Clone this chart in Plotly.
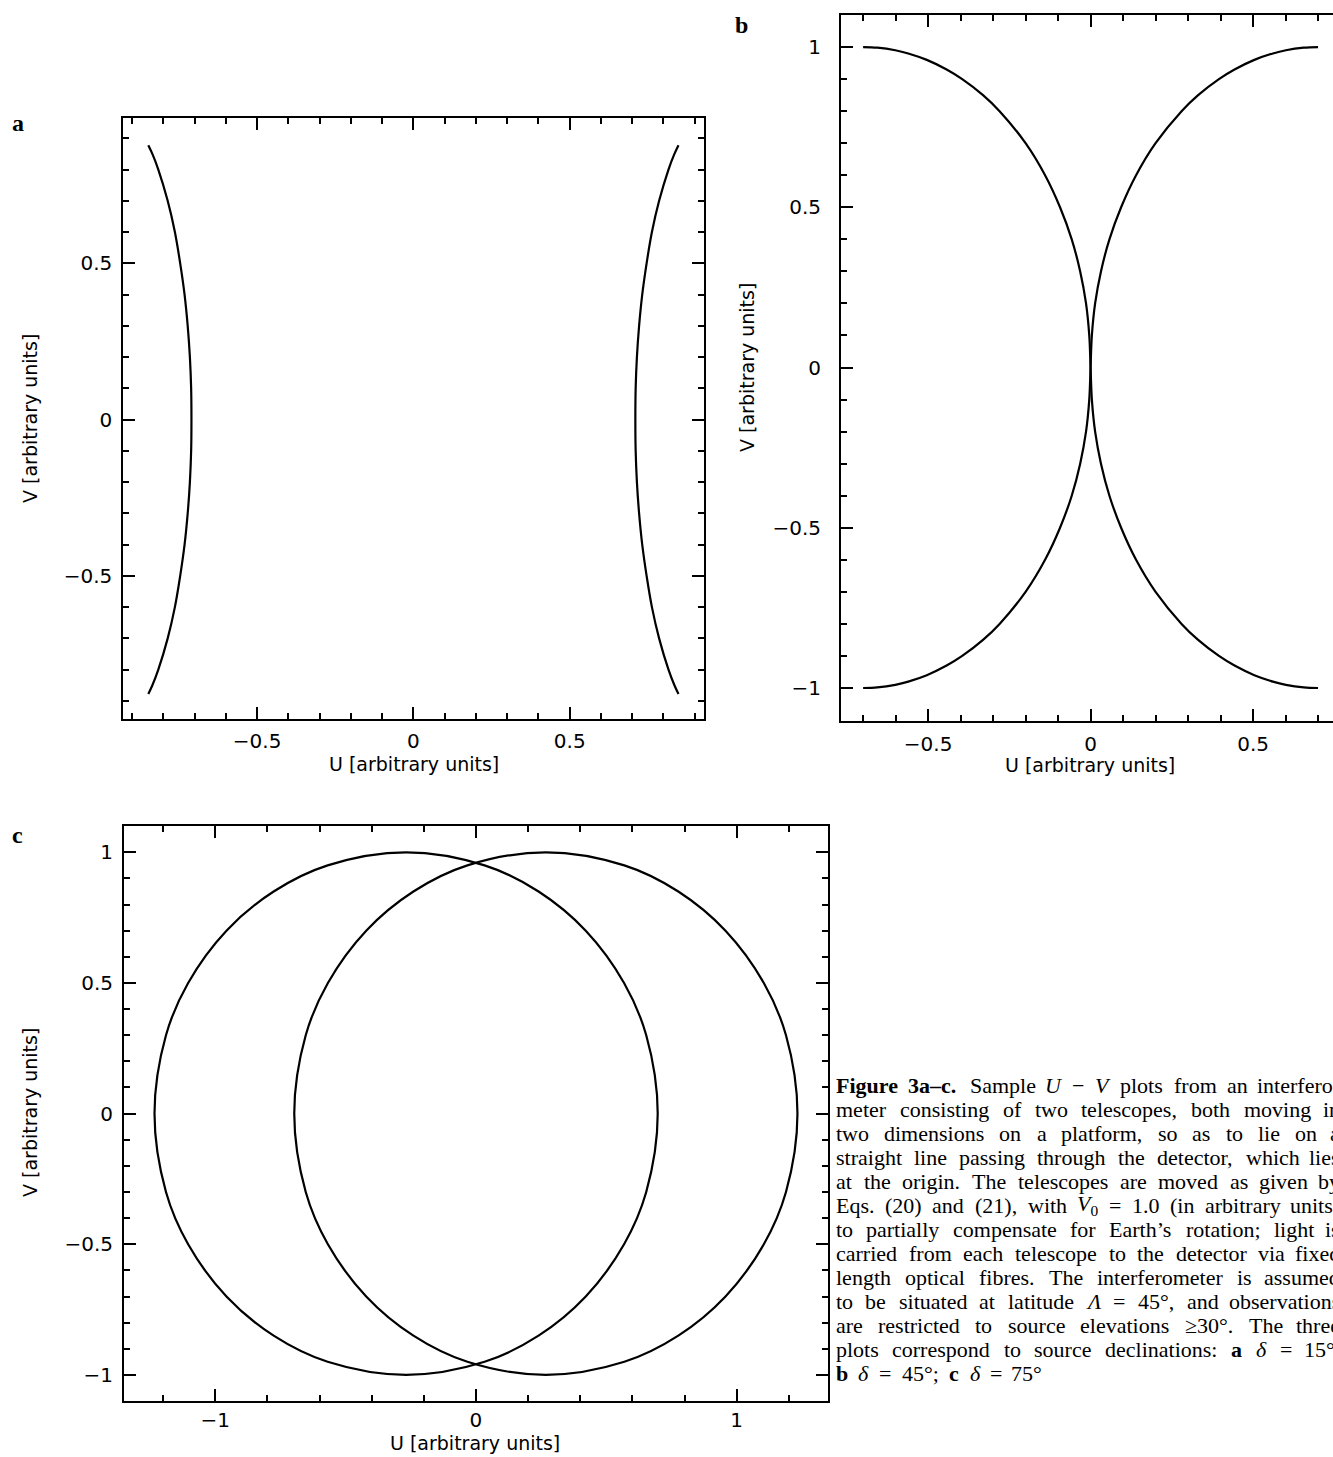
import re
import plotly.graph_objects as go

W, H = 1333, 1457

# ---------------- data ----------------
# panel a : two arcs (delta = 15 deg)
a_v = [-0.878, -0.85, -0.8, -0.7, -0.6, -0.5, -0.4, -0.3, -0.2, -0.1, 0.0,
       0.1, 0.2, 0.3, 0.4, 0.5, 0.6, 0.7, 0.8, 0.85, 0.878]
a_right_u = [0.848, 0.835, 0.816, 0.786, 0.763, 0.746, 0.732, 0.722, 0.715, 0.711, 0.710,
             0.711, 0.715, 0.722, 0.732, 0.746, 0.763, 0.786, 0.816, 0.835, 0.848]
a_left_u = [-0.848, -0.835, -0.816, -0.786, -0.763, -0.746, -0.732, -0.722, -0.715, -0.711, -0.710,
            -0.711, -0.715, -0.722, -0.732, -0.746, -0.763, -0.786, -0.816, -0.835, -0.848]

# panel b : two crossing tracks (delta = 45 deg)
b_v = [1.0, 0.998, 0.99, 0.98, 0.96, 0.93, 0.9, 0.85, 0.8, 0.7, 0.6, 0.5, 0.4, 0.3, 0.2, 0.1, 0.0,
       -0.1, -0.2, -0.3, -0.4, -0.5, -0.6, -0.7, -0.8, -0.85, -0.9, -0.93, -0.96, -0.98, -0.99, -0.998, -1.0]
b_track1_u = [-0.700, -0.656, -0.601, -0.561, -0.504, -0.443, -0.395, -0.331, -0.280, -0.200, -0.140,
              -0.094, -0.058, -0.032, -0.014, -0.004, 0.0,
              0.004, 0.014, 0.032, 0.058, 0.094, 0.140, 0.200, 0.280, 0.331, 0.395, 0.443, 0.504,
              0.561, 0.601, 0.656, 0.700]
b_track2_u = [0.700, 0.656, 0.601, 0.561, 0.504, 0.443, 0.395, 0.331, 0.280, 0.200, 0.140,
              0.094, 0.058, 0.032, 0.014, 0.004, 0.0,
              -0.004, -0.014, -0.032, -0.058, -0.094, -0.140, -0.200, -0.280, -0.331, -0.395, -0.443, -0.504,
              -0.561, -0.601, -0.656, -0.700]

# panel c : two closed tracks (delta = 75 deg)
c_v = [1.0, 0.95, 0.85, 0.7, 0.5, 0.3, 0.0, -0.3, -0.5, -0.7, -0.85, -0.95, -1.0,
       -0.95, -0.85, -0.7, -0.5, -0.3, 0.0, 0.3, 0.5, 0.7, 0.85, 0.95, 1.0]
c_right_u = [0.268, 0.569, 0.776, 0.957, 1.104, 1.189, 1.233, 1.189, 1.104, 0.957, 0.776, 0.569, 0.268,
             -0.033, -0.240, -0.421, -0.568, -0.653, -0.697, -0.653, -0.568, -0.421, -0.240, -0.033, 0.268]
c_left_u = [-0.268, -0.569, -0.776, -0.957, -1.104, -1.189, -1.233, -1.189, -1.104, -0.957, -0.776, -0.569, -0.268,
            0.033, 0.240, 0.421, 0.568, 0.653, 0.697, 0.653, 0.568, 0.421, 0.240, 0.033, -0.268]

ticks_half = [-1, -0.5, 0, 0.5, 1]
ticks_half_text = ["\u22121", "\u22120.5", "0", "0.5", "1"]
ticks_one = [-1, 0, 1]
ticks_one_text = ["\u22121", "0", "1"]

x_title = "U [arbitrary units]"
y_title = "V [arbitrary units]"

caption_lines = [
    "<b>Figure</b> <b>3a\u2013c.</b> Sample <i>U</i> \u2212 <i>V</i> plots from an interfero-",
    "meter consisting of two telescopes, both moving in",
    "two dimensions on a platform, so as to lie on a",
    "straight line passing through the detector, which lies",
    "at the origin. The telescopes are moved as given by",
    "Eqs. (20) and (21), with <i>V</i><sub>0</sub> = 1.0 (in arbitrary units)",
    "to partially compensate for Earth\u2019s rotation; light is",
    "carried from each telescope to the detector via fixed",
    "length optical fibres. The interferometer is assumed",
    "to be situated at latitude <i>\u039b</i> = 45\u00b0, and observations",
    "are restricted to source elevations \u226530\u00b0. The three",
    "plots correspond to source declinations: <b>a</b> <i>\u03b4</i> = 15\u00b0,",
    "<b>b</b> <i>\u03b4</i> = 45\u00b0; <b>c</b> <i>\u03b4</i> = 75\u00b0",
]

# ---------------- figure ----------------
fig = go.Figure()
line = dict(color="black", width=2.2)

for u in (a_left_u, a_right_u):
    fig.add_trace(go.Scatter(x=u, y=a_v, mode="lines", line=dict(shape="spline", **line),
                             xaxis="x", yaxis="y", hoverinfo="skip"))
for u in (b_track1_u, b_track2_u):
    fig.add_trace(go.Scatter(x=u, y=b_v, mode="lines", line=dict(shape="spline", **line),
                             xaxis="x2", yaxis="y2", hoverinfo="skip"))
for u in (c_left_u, c_right_u):
    fig.add_trace(go.Scatter(x=u, y=c_v, mode="lines", line=dict(shape="spline", **line),
                             xaxis="x3", yaxis="y3", hoverinfo="skip"))

tickfont = dict(family="DejaVu Sans", size=20, color="black")
titlefont = dict(family="DejaVu Sans", size=19, color="black")


def ax(domain, rng, tv, tt, minor_dt, anchor, mirror="allticks", lab_off=0):
    return dict(
        domain=domain, range=rng, anchor=anchor, autorange=False,
        showline=True, linecolor="black", linewidth=2, mirror=mirror,
        ticks="inside", ticklen=12, tickwidth=2, tickcolor="black",
        tickmode="array", tickvals=tv, ticktext=tt, tickfont=tickfont,
        ticklabelstandoff=lab_off,
        showgrid=False, zeroline=False, fixedrange=True,
        minor=dict(ticks="inside", ticklen=6, tickwidth=2, tickcolor="black",
                   tickmode="linear", tick0=0, dtick=minor_dt, showgrid=False),
    )


def px_x(p):
    return p / W


def px_y(p):
    return 1 - p / H


fig.update_layout(
    width=W, height=H, margin=dict(l=0, r=0, t=0, b=0),
    paper_bgcolor="white", plot_bgcolor="white", showlegend=False,
    xaxis=ax([px_x(123.3), px_x(703.5)], [-0.928, 0.928], ticks_half, ticks_half_text, 0.1, "y", lab_off=3),
    yaxis=ax([px_y(719), px_y(118.3)], [-0.958, 0.964], ticks_half, ticks_half_text, 0.1, "x", lab_off=5),
    xaxis2=ax([px_x(841), 1.0], [-0.768, 0.746], ticks_half, ticks_half_text, 0.1, "y2", lab_off=4),
    yaxis2=ax([px_y(720.7), px_y(15)], [-1.102, 1.1], ticks_half, ticks_half_text, 0.1, "x2",
              mirror=False, lab_off=14),
    xaxis3=ax([px_x(124), px_x(827.7)], [-1.35, 1.349], ticks_one, ticks_one_text, 0.2, "y3", lab_off=0),
    yaxis3=ax([px_y(1401), px_y(825.7)], [-1.10, 1.102], ticks_half, ticks_half_text, 0.1, "x3", lab_off=5),
)

# axis titles
for cx, cy in ((414, 764), (1090, 765), (475, 1443)):
    fig.add_annotation(text=x_title, x=px_x(cx), y=px_y(cy), xref="paper", yref="paper",
                       xanchor="center", yanchor="middle", showarrow=False, font=titlefont,
                       borderpad=0)
for cx, cy in ((30, 419), (747, 368), (30, 1113)):
    fig.add_annotation(text=y_title, x=px_x(cx), y=px_y(cy), xref="paper", yref="paper",
                       xanchor="center", yanchor="middle", showarrow=False, font=titlefont,
                       textangle=-90, borderpad=0)

letter_font = dict(family="Liberation Serif", size=24, color="black")
for txt, x, y in (("a", 10, 123), ("b", 733, 25), ("c", 10, 835)):
    fig.add_annotation(text=f"<b>{txt}</b>", x=px_x(x), y=px_y(y), xref="paper", yref="paper",
                       xanchor="left", yanchor="middle", showarrow=False, font=letter_font)

# ---- caption, justified word by word ----
TIMES = {' ': 250, 'a': 444, 'b': 500, 'c': 444, 'd': 500, 'e': 444, 'f': 333, 'g': 500, 'h': 500,
         'i': 278, 'j': 278, 'k': 500, 'l': 278, 'm': 778, 'n': 500, 'o': 500, 'p': 500, 'q': 500,
         'r': 333, 's': 389, 't': 278, 'u': 500, 'v': 500, 'w': 722, 'x': 500, 'y': 500, 'z': 444,
         'E': 611, 'F': 556, 'T': 611, 'U': 722, 'V': 611, '\u039b': 680, '\u03b4': 480,
         '.': 250, ',': 250, ';': 278, ':': 278, '(': 333, ')': 333, '-': 333, '\u2013': 500,
         '\u2212': 564, '=': 564, '\u00b0': 400, '\u2265': 549, '\u2019': 333}
CAP_SIZE = 22


def word_width(w, size):
    bold = '<b>' in w
    extra = 0.0
    for s in re.findall(r'<sub>(.*?)</sub>', w):
        extra += 0.7 * sum(TIMES.get(ch, 500) for ch in s) / 1000
    w2 = re.sub(r'<sub>.*?</sub>', '', w)
    txt = re.sub(r'<[^>]+>', '', w2)
    em = sum(TIMES.get(ch, 500) for ch in txt) / 1000
    if bold:
        em *= 1.07
    return (em + extra) * size


cap_font = dict(family="Liberation Serif", size=CAP_SIZE, color="black")
LEFT = 835
for i, t in enumerate(caption_lines):
    right = 1341 if i < len(caption_lines) - 1 else 1043
    words = t.split(' ')
    widths = [word_width(w, CAP_SIZE) for w in words]
    gap = (right - LEFT - sum(widths)) / (len(words) - 1)
    ypos = px_y(1085 + i * 24.0)
    x = LEFT
    for j, (w, wd) in enumerate(zip(words, widths)):
        if j == len(words) - 1:
            fig.add_annotation(text=w, x=px_x(right), y=ypos, xref="paper", yref="paper",
                               xanchor="right", yanchor="middle", showarrow=False, font=cap_font,
                               borderpad=0)
        else:
            fig.add_annotation(text=w, x=px_x(x), y=ypos, xref="paper", yref="paper",
                               xanchor="left", yanchor="middle", showarrow=False, font=cap_font,
                               borderpad=0)
        x += wd + gap

fig.write_html("out.html", config={"displayModeBar": False},
               post_script="document.body.style.margin='0px';")
